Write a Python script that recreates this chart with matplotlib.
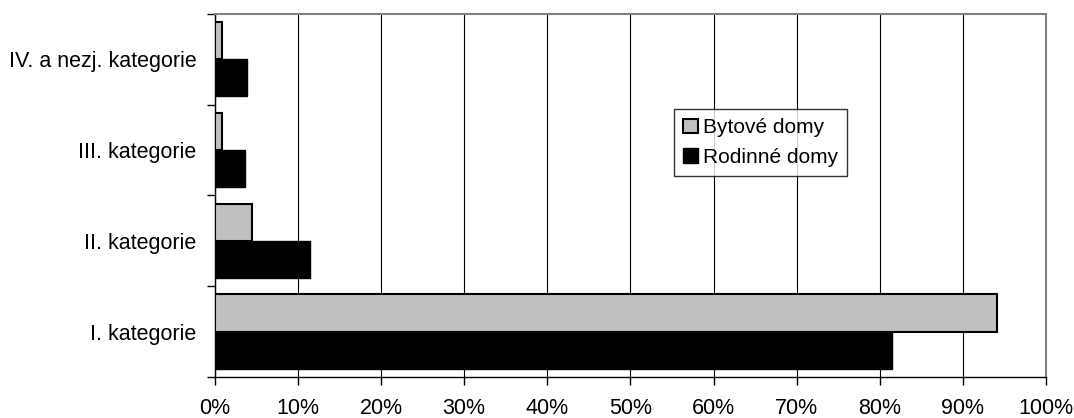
import numpy as np
import matplotlib.pyplot as plt
from matplotlib.ticker import PercentFormatter

plt.rcParams['font.family'] = ['Liberation Sans', 'DejaVu Sans']

categories = ['I. kategorie', 'II. kategorie', 'III. kategorie', 'IV. a nezj. kategorie']
bytove = [94.1, 4.5, 0.9, 0.9]
rodinne = [81.5, 11.5, 3.6, 3.9]

fig, ax = plt.subplots(figsize=(10.74, 4.18), dpi=100)
fig.subplots_adjust(left=0.2, right=0.974, top=0.967, bottom=0.098)

y = np.arange(len(categories))
h = 0.41
ax.barh(y + h / 2, bytove, height=h, color='#c0c0c0', edgecolor='black',
        linewidth=1.5, label='Bytové domy', zorder=3)
ax.barh(y - h / 2, rodinne, height=h, color='black', edgecolor='black',
        linewidth=1.0, label='Rodinné domy', zorder=3)

ax.set_xlim(0, 100)
ax.set_ylim(-0.5, len(categories) - 0.5)
ax.set_xticks(np.arange(0, 101, 10))
ax.xaxis.set_major_formatter(PercentFormatter(decimals=0))
ax.xaxis.grid(True, color='black', linewidth=0.8, zorder=0)

# category labels centred, ticks on the boundaries between groups
ax.set_yticks(y)
ax.set_yticklabels(categories)
ax.set_yticks(np.arange(-0.5, len(categories), 1), minor=True)
ax.tick_params(axis='y', which='major', length=0, pad=13, labelsize=15.5)
ax.tick_params(axis='y', which='minor', length=6, width=1)
ax.tick_params(axis='x', length=6, width=1, labelsize=15.5, pad=9)

for side in ('top', 'right'):
    ax.spines[side].set_color('#808080')
    ax.spines[side].set_linewidth(1.5)
for side in ('left', 'bottom'):
    ax.spines[side].set_color('black')
    ax.spines[side].set_linewidth(1)

leg = ax.legend(loc='upper left', bbox_to_anchor=(0.552, 0.738), fontsize=15,
                frameon=True, fancybox=False, edgecolor='black',
                handlelength=0.7, handleheight=0.7, handletextpad=0.25,
                borderpad=0.45, labelspacing=0.5, borderaxespad=0)
leg.get_frame().set_linewidth(1)

fig.savefig('out.png', dpi=100)
